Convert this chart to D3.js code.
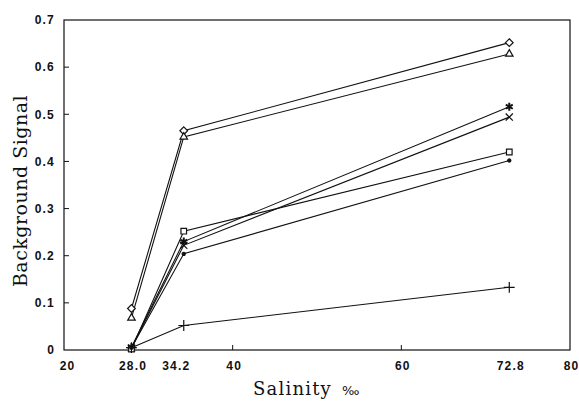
<!DOCTYPE html>
<html>
<head>
<meta charset="utf-8">
<script src="https://cdn.jsdelivr.net/npm/d3@7"></script>
<style>
  html, body { margin: 0; padding: 0; background: #fff; }
  svg { display: block; }
  .tick-label { font-family: "Liberation Sans", Arial, sans-serif; font-weight: bold; font-size: 12px; letter-spacing: 1.2px; fill: #111; }
  .title { font-family: "DejaVu Serif", serif; fill: #111; }
</style>
</head>
<body>
<svg id="chart" width="579" height="401"></svg>
<script>
// Salinity levels (‰) at which the background signal was measured
const salinity = [28.0, 34.2, 72.8];

// Background signal for each sample series
const diamondSeries  = [0.088, 0.465, 0.652];
const triangleSeries = [0.068, 0.452, 0.628];
const asteriskSeries = [0.006, 0.230, 0.516];
const timesSeries    = [0.004, 0.222, 0.494];
const squareSeries   = [0.002, 0.252, 0.420];
const dotSeries      = [0.005, 0.204, 0.402];
const plusSeries     = [0.005, 0.052, 0.133];

// Axis tick values and labels
const xTickValues = [20, 28.0, 34.2, 40, 60, 72.8, 80];
const xTickLabels = ["20", "28.0", "34.2", "40", "60", "72.8", "80"];
const xInnerTicks = [40, 60];
const yTickValues = [0, 0.1, 0.2, 0.3, 0.4, 0.5, 0.6, 0.7];
const yTickLabels = ["0", "0.1", "0.2", "0.3", "0.4", "0.5", "0.6", "0.7"];
const yInnerTicks = [0.1, 0.2, 0.3, 0.4, 0.5, 0.6];

const svg = d3.select("#chart");
const plotLeft = 64, plotRight = 570, plotTop = 20, plotBottom = 350;

const x = d3.scaleLinear().domain([20, 80]).range([plotLeft, plotRight]);
const y = d3.scaleLinear().domain([0, 0.7]).range([plotBottom, plotTop]);

// frame
svg.append("rect")
  .attr("x", plotLeft).attr("y", plotTop)
  .attr("width", plotRight - plotLeft).attr("height", plotBottom - plotTop)
  .attr("fill", "none").attr("stroke", "#111").attr("stroke-width", 1.2);

// inner tick marks
svg.append("g").selectAll("line").data(yInnerTicks).join("line")
  .attr("x1", plotLeft).attr("x2", plotLeft + 5)
  .attr("y1", d => y(d)).attr("y2", d => y(d))
  .attr("stroke", "#111").attr("stroke-width", 1);
svg.append("g").selectAll("line").data(xInnerTicks).join("line")
  .attr("x1", d => x(d)).attr("x2", d => x(d))
  .attr("y1", plotBottom).attr("y2", plotBottom - 5)
  .attr("stroke", "#111").attr("stroke-width", 1);

// x axis labels
const xAxis = d3.axisBottom(x)
  .tickValues(xTickValues)
  .tickSize(0).tickPadding(11)
  .tickFormat((d, i) => xTickLabels[i]);
const gx = svg.append("g").attr("transform", `translate(0,${plotBottom})`).call(xAxis);
gx.select(".domain").remove();
gx.attr("font-size", null).attr("font-family", null);
gx.selectAll("text").attr("class", "tick-label")
  .attr("dx", d => d === 34.2 ? -8 : (d === 20 ? 3 : 1));

// y axis labels
const yAxis = d3.axisLeft(y)
  .tickValues(yTickValues)
  .tickSize(0).tickPadding(9)
  .tickFormat((d, i) => yTickLabels[i]);
const gy = svg.append("g").attr("transform", `translate(${plotLeft},0)`).call(yAxis);
gy.select(".domain").remove();
gy.attr("font-size", null).attr("font-family", null);
gy.selectAll("text").attr("class", "tick-label");

// axis titles
svg.append("text").attr("class", "title")
  .attr("transform", `translate(27,191) rotate(-90)`)
  .attr("text-anchor", "middle")
  .attr("font-size", 19).attr("letter-spacing", 0.5)
  .text("Background Signal");

const xt = svg.append("text").attr("class", "title")
  .attr("x", 253).attr("y", 395)
  .attr("font-size", 18).attr("letter-spacing", 1.2);
xt.append("tspan").text("Salinity");
xt.append("tspan").attr("dx", 10).attr("font-size", 13).attr("font-family", "DejaVu Sans").text("‰");

// series
const series = [
  { values: diamondSeries,  symbol: d3.symbolDiamond2,  size: 38, fill: "#fff" },
  { values: triangleSeries, symbol: d3.symbolTriangle2, size: 40, fill: "#fff" },
  { values: asteriskSeries, symbol: d3.symbolAsterisk,  size: 45, fill: "none", sw: 2 },
  { values: timesSeries,    symbol: d3.symbolTimes,     size: 35, fill: "none" },
  { values: squareSeries,   symbol: d3.symbolSquare2,   size: 40, fill: "#fff" },
  { values: dotSeries,      symbol: d3.symbolCircle,    size: 8,  fill: "#111" },
  { values: plusSeries,     symbol: d3.symbolPlus,      size: 40, fill: "none" }
];

const line = d3.line()
  .x((d, i) => x(salinity[i]))
  .y(d => y(d));

const gl = svg.append("g");
series.forEach(s => {
  gl.append("path")
    .attr("d", line(s.values))
    .attr("fill", "none")
    .attr("stroke", "#111")
    .attr("stroke-width", 1.1);
});

const gm = svg.append("g");
series.forEach(s => {
  gm.selectAll(null).data(s.values).join("path")
    .attr("transform", (d, i) => `translate(${x(salinity[i])},${y(d)})`)
    .attr("d", d3.symbol(s.symbol, s.size))
    .attr("fill", s.fill)
    .attr("stroke", "#111")
    .attr("stroke-width", s.sw || 1.2);
});
</script>
</body>
</html>
